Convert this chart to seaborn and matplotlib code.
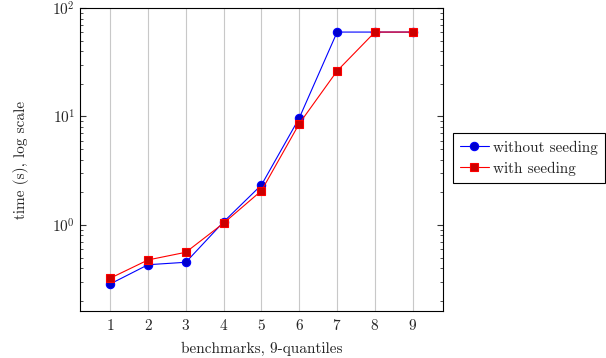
import numpy as np
import pandas as pd
import matplotlib
matplotlib.use("Agg")
import matplotlib.pyplot as plt
import seaborn as sns

# ------------------------------------------------------
# Data
# ------------------------------------------------------

quantiles = [1, 2, 3, 4, 5, 6, 7, 8, 9]
without_seeding = [0.286, 0.43, 0.453, 1.07, 2.34, 9.7, 60, 60, 60]
with_seeding = [0.323, 0.476, 0.56, 1.04, 2.07, 8.6, 26.3, 60, 60]
series_names = ["without seeding", "with seeding"]

df = pd.DataFrame({
    "quantile": quantiles + quantiles,
    "time": without_seeding + with_seeding,
    "series": [series_names[0]] * len(quantiles) + [series_names[1]] * len(quantiles),
})

# ------------------------------------------------------
# Style
# ------------------------------------------------------

sns.set_style("ticks")
plt.rcParams.update({
    "font.family": "cmr10",
    "mathtext.fontset": "cm",
    "axes.formatter.use_mathtext": True,
    "font.size": 11,
    "axes.edgecolor": "black",
    "axes.linewidth": 0.8,
})

line_colors = {"without seeding": "#0000ff", "with seeding": "#ff0000"}
fill_colors = {"without seeding": "#0000cc", "with seeding": "#cc0000"}

fig = plt.figure(figsize=(6.06, 3.58), dpi=100)
ax = fig.add_axes([80 / 606, 1 - 311 / 358, 363 / 606, 303 / 358])

sns.lineplot(
    data=df, x="quantile", y="time",
    hue="series", style="series",
    hue_order=series_names, style_order=series_names,
    palette=line_colors,
    markers={"without seeding": "o", "with seeding": "s"},
    dashes=False, linewidth=0.8, markersize=6, markeredgewidth=0.8,
    legend=False, ax=ax,
)

for line, name in zip(ax.lines, series_names):
    line.set_markerfacecolor(fill_colors[name])
    line.set_markeredgecolor(line_colors[name])

ax.set_yscale("log")
ax.set_ylim(0.161, 100)
ax.set_xlim(0.2, 9.8)
ax.set_xticks(quantiles)
ax.grid(axis="x", color="#c8c8c8", linewidth=0.8)
ax.tick_params(which="both", direction="in", top=True, right=True, color="#333333")
ax.tick_params(which="major", length=4)
ax.tick_params(which="minor", length=2.5)
ax.tick_params(axis="x", which="major", length=0, pad=5)

ax.set_xlabel("benchmarks, 9-quantiles", labelpad=6)
ax.set_ylabel("time (s), log scale", labelpad=17)

ax.legend(
    handles=ax.lines[:2], labels=series_names,
    loc="center left", bbox_to_anchor=(1.027, 0.505),
    frameon=True, fancybox=False, edgecolor="black", framealpha=1,
    borderpad=0.45, handlelength=1.9, handletextpad=0.3, labelspacing=0.45,
    borderaxespad=0,
)
ax.get_legend().get_frame().set_linewidth(0.8)

fig.savefig("out.png", dpi=100)
